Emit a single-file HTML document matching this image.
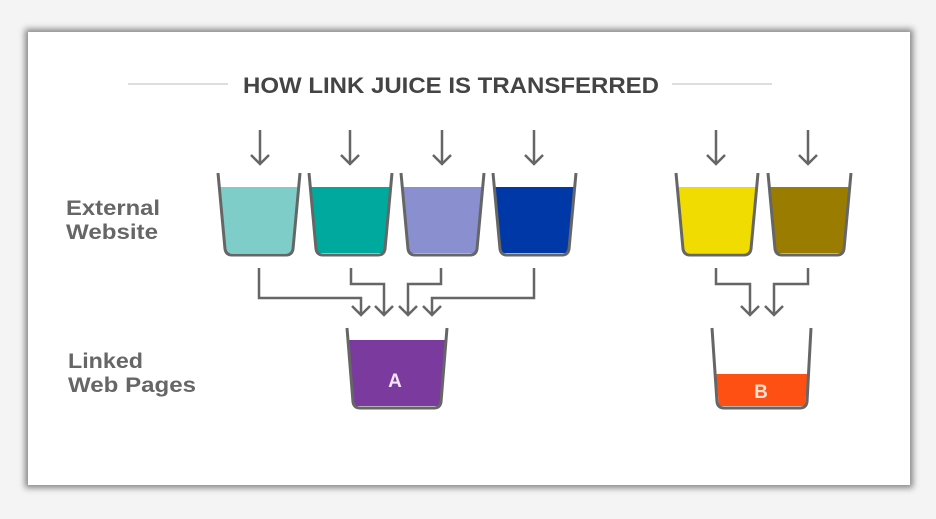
<!DOCTYPE html>
<html><head><style>
html,body{margin:0;padding:0;background:#f4f4f4;}
body{width:936px;height:519px;overflow:hidden;position:relative;}
.card{position:absolute;left:28px;top:32px;width:882px;height:453px;background:#fff;box-shadow:0 0 6px 3px rgba(0,0,0,0.45);}
svg{position:absolute;left:0;top:0;}
</style></head><body>
<div class="card"></div>
<svg width="936" height="519" viewBox="0 0 936 519" font-family="Liberation Sans, sans-serif">
<line x1="128" y1="84" x2="228" y2="84" stroke="#ddd" stroke-width="2"/>
<line x1="672" y1="84" x2="772" y2="84" stroke="#ddd" stroke-width="2"/>
<text x="243" y="93" font-size="22" font-weight="bold" fill="#444" textLength="416" lengthAdjust="spacingAndGlyphs">HOW LINK JUICE IS TRANSFERRED</text>
<g fill="#666" font-size="21" font-weight="bold">
<text x="66" y="215" textLength="94" lengthAdjust="spacingAndGlyphs">External</text>
<text x="66" y="239" textLength="92" lengthAdjust="spacingAndGlyphs">Website</text>
<text x="68" y="368" textLength="75" lengthAdjust="spacingAndGlyphs">Linked</text>
<text x="68" y="392" textLength="128" lengthAdjust="spacingAndGlyphs">Web Pages</text>
</g>
<g>
<polygon points="219,187 299,187 292,253 226,253" fill="#7fcdc8"/>
<polygon points="310,187 391,187 384,253 317,253" fill="#00a99d"/>
<polygon points="402,187 483,187 476,253 409,253" fill="#8a8fd0"/>
<polygon points="494,187 575,187 568,253 501,253" fill="#0038a8"/>
<polygon points="677,187 757,187 750,253 684,253" fill="#f0dc00"/>
<polygon points="769,187 850,187 843,253 776,253" fill="#9a7d00"/>
<polygon points="348,340 446,340 440,406 354,406" fill="#7b3a9e"/>
<polygon points="716,374 808,374 805,406 719,406" fill="#ff5014"/>
</g>
<g fill="none" stroke="#666" stroke-width="3" stroke-linejoin="round">
<path d="M218,173 L225,249 Q226,255 232,255 L286,255 Q292,255 293,249 L300,173"/>
<path d="M309,173 L316,249 Q317,255 323,255 L378,255 Q384,255 385,249 L392,173"/>
<path d="M401,173 L408,249 Q409,255 415,255 L470,255 Q476,255 477,249 L484,173"/>
<path d="M493,173 L500,249 Q501,255 507,255 L562,255 Q568,255 569,249 L576,173"/>
<path d="M676,173 L683,249 Q684,255 690,255 L744,255 Q750,255 751,249 L758,173"/>
<path d="M768,173 L775,249 Q776,255 782,255 L837,255 Q843,255 844,249 L851,173"/>
<path d="M347,328 L353,402 Q354,408 360,408 L434,408 Q440,408 441,402 L447,328"/>
<path d="M712,328 L717,402 Q718,408 724,408 L800,408 Q806,408 807,402 L811,328"/>
</g>
<g fill="none" stroke="#666" stroke-width="2.5">
<path d="M260,130 V164 M251,155 L260,164 L269,155"/>
<path d="M350,130 V164 M341,155 L350,164 L359,155"/>
<path d="M442,130 V164 M433,155 L442,164 L451,155"/>
<path d="M534,130 V164 M525,155 L534,164 L543,155"/>
<path d="M716,130 V164 M707,155 L716,164 L725,155"/>
<path d="M808,130 V164 M799,155 L808,164 L817,155"/>
<path d="M259,268 V298 H361 V315 M352,306 L361,315 L370,306"/>
<path d="M351,268 V284 H384 V315 M375,306 L384,315 L393,306"/>
<path d="M441,268 V284 H408 V315 M399,306 L408,315 L417,306"/>
<path d="M534,268 V298 H432 V315 M423,306 L432,315 L441,306"/>
<path d="M716,268 V284 H750 V315 M741,306 L750,315 L759,306"/>
<path d="M808,268 V284 H774 V315 M765,306 L774,315 L783,306"/>
</g>
<text x="395" y="387" font-size="19" font-weight="bold" fill="#f4e4f4" text-anchor="middle">A</text>
<text x="761" y="398" font-size="19" font-weight="bold" fill="#fde0d0" text-anchor="middle">B</text>
</svg>
</body></html>
